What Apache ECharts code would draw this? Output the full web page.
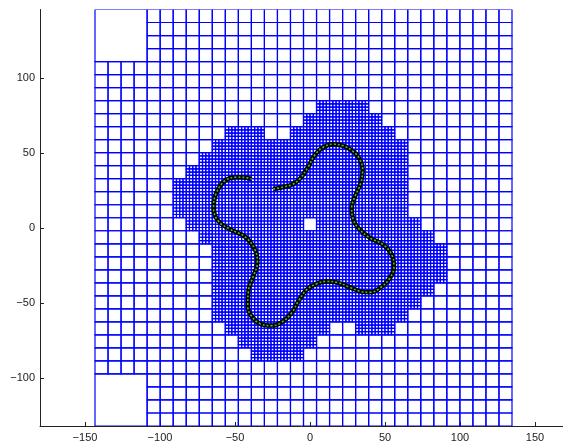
<!DOCTYPE html>
<html><head><meta charset="utf-8">
<script src="https://cdn.jsdelivr.net/npm/echarts@6/dist/echarts.min.js"></script>
<style>html,body{margin:0;padding:0;background:#fff}#c{width:563px;height:443px}</style>
</head><body><div id="c"></div>
<script>
// ---- data ----
// Mesh domain (data units) and coarse grid size
const meshLeft = -143.33;
const meshTop = 146;
const meshSide = 278;
const coarseN = 32;          // coarse cells per side
const fineSplit = 4;         // refined cells are split 4x4
// refined runs: [row (0 = top), first col, last col]
const denseRuns = [
  [7,17,20],[8,16,21],[9,10,12],[9,15,22],[10,9,23],[11,8,23],[12,7,23],
  [13,6,23],[14,6,23],[15,6,23],[16,7,15],[16,17,24],[17,8,25],[18,9,26],
  [19,9,26],[20,9,26],[21,9,25],[22,9,24],[23,9,23],[24,10,17],[24,20,22],
  [25,11,16],[26,12,15]
];
// merged 4x4 coarse blocks: [row, col] of top-left coarse cell
const mergedBlocks = [[0,0],[28,0]];
const mergedSize = 4;

// curve
const curveX = [-24.5,-17.8,-12.2,-6.7,-1.1,3.3,8.9,15.5,22.2,28.9,33.3,35.1,33.8,30.0,27.8,28.9,32.2,40.0,48.9,54.5,56.0,53.3,46.7,40.0,33.3,26.7,17.8,11.1,4.5,-2.2,-7.8,-12.2,-18.9,-25.5,-33.3,-38.9,-41.5,-41.1,-37.8,-35.1,-36.7,-43.3,-53.3,-61.3,-64.3,-62.7,-56.7,-48.9,-43.3,-38.9];
const curveY = [26.1,27.5,29.0,33.0,41.2,49.0,54.1,56.1,55.0,51.2,45.7,39.0,30.1,21.2,13.5,5.7,0.1,-6.5,-11.0,-17.7,-25.5,-33.2,-39.9,-42.8,-42.1,-39.5,-36.1,-35.5,-37.0,-41.0,-48.8,-56.5,-62.8,-65.0,-63.7,-58.8,-52.1,-42.1,-32.1,-23.2,-14.3,-5.7,-0.7,5.0,13.7,23.0,31.7,34.1,33.9,32.8];

const xTicks = [-150,-100,-50,0,50,100,150];
const yTicks = [-100,-50,0,50,100];

// ---- build cells ----
const cs = meshSide / coarseN;
const cells = [];
function isDense(r,c){ return denseRuns.some(d => d[0]===r && c>=d[1] && c<=d[2]); }
function inMerged(r,c){ return mergedBlocks.find(b => r>=b[0] && r<b[0]+mergedSize && c>=b[1] && c<b[1]+mergedSize); }
for (let r=0;r<coarseN;r++){
  for (let c=0;c<coarseN;c++){
    const x0 = meshLeft + c*cs, yT = meshTop - r*cs;
    const mb = inMerged(r,c);
    if (mb){
      if (mb[0]===r && mb[1]===c) cells.push([x0, yT-mergedSize*cs, x0+mergedSize*cs, yT]);
      continue;
    }
    if (isDense(r,c)){
      const fs = cs/fineSplit;
      for (let i=0;i<fineSplit;i++) for (let j=0;j<fineSplit;j++){
        cells.push([x0+j*fs, yT-(i+1)*fs, x0+(j+1)*fs, yT-i*fs]);
      }
    } else {
      cells.push([x0, yT-cs, x0+cs, yT]);
    }
  }
}
const curve = curveX.map((x,i)=>[x,curveY[i]]);

const fmt = v => String(v).replace('-', '\u2212');
const font = {fontFamily:'Liberation Sans, Arial, sans-serif', fontSize:11, color:'#222'};

const chart = echarts.init(document.getElementById('c'), null, {renderer:'canvas'});
chart.setOption({
  animation:false,
  backgroundColor:'#fff',
  grid:{left:40, right:0, top:9.5, bottom:16.5, containLabel:false},
  xAxis:{type:'value', min:-180, max:168.67,
    axisLine:{show:true, onZero:false, lineStyle:{color:'#222', width:1}},
    axisTick:{show:true, inside:true, length:4, lineStyle:{color:'#222'}, customValues:xTicks},
    axisLabel:Object.assign({margin:6, formatter:fmt, customValues:xTicks}, font),
    splitLine:{show:false}},
  yAxis:{type:'value', min:-132, max:146,
    axisLine:{show:true, onZero:false, lineStyle:{color:'#222', width:1}},
    axisTick:{show:true, inside:true, length:4, lineStyle:{color:'#222'}, customValues:yTicks},
    axisLabel:Object.assign({margin:5, formatter:fmt, customValues:yTicks}, font),
    splitLine:{show:false}},
  series:[
    {type:'custom', data:cells, progressive:0, clip:true, silent:true,
     renderItem:function(params, api){
       const a = api.coord([api.value(0), api.value(3)]);
       const b = api.coord([api.value(2), api.value(1)]);
       return {type:'rect', shape:{x:a[0], y:a[1], width:b[0]-a[0], height:b[1]-a[1]},
         style:{fill:null, stroke:'#0000ff', lineWidth:1.2}};
     }},
    {type:'line', data:curve, smooth:0.4, symbol:'none', lineStyle:{color:'#000', width:4.5}, z:5},
    {type:'line', data:curve, smooth:0.4, symbol:'none', lineStyle:{color:'#3fbf3f', width:1.6, type:[2,2]}, z:6}
  ]
});
</script></body></html>
